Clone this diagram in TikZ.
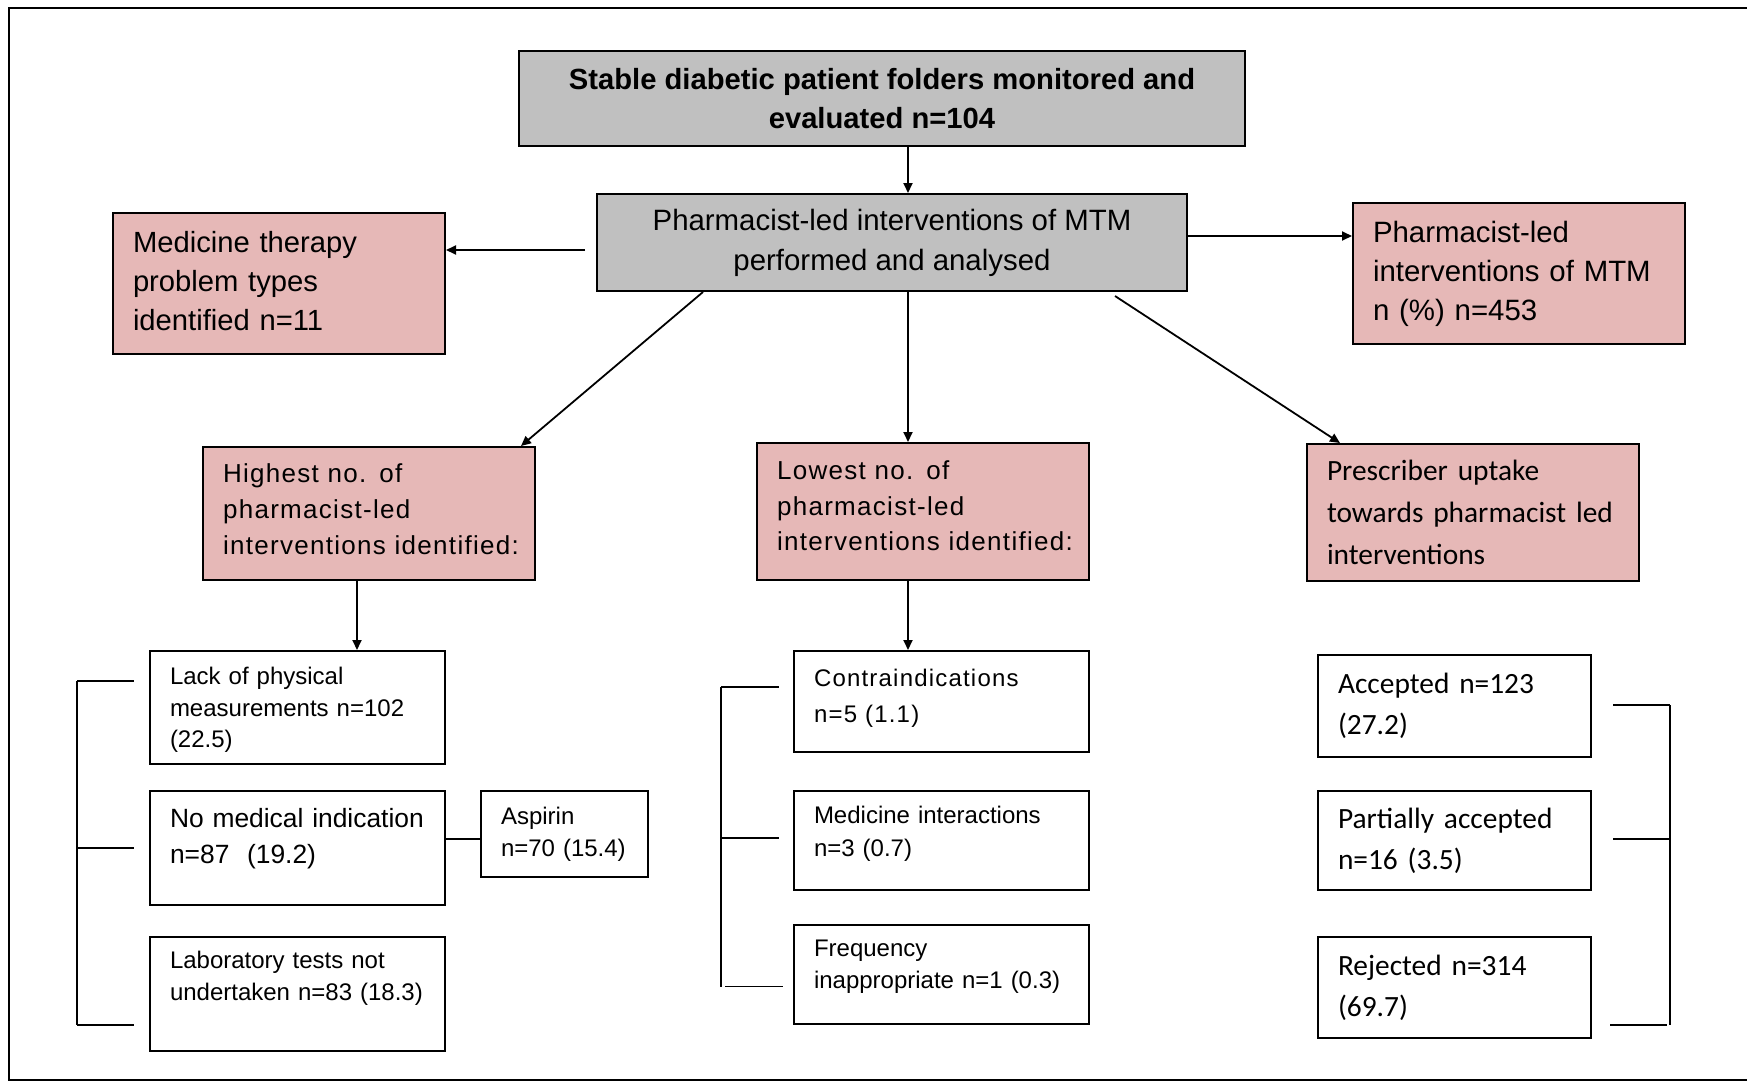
\documentclass[tikz,border=0pt]{standalone}
\usepackage{fontspec}
\setmainfont{Liberation Sans}
\newfontfamily\calfont{Carlito}
\newfontfamily\widefont[LetterSpace=5]{Liberation Sans}
\usetikzlibrary{arrows.meta}
\definecolor{rosa}{HTML}{E6B8B7}
\definecolor{cinza}{HTML}{C0C0C0}

\begin{document}
\begin{tikzpicture}[x=0.5pt,y=-0.5pt,
  caixa/.style={draw,line width=1pt,rectangle,inner xsep=5pt,inner ysep=2pt,
    align=left,execute at begin node={\leftskip=5pt}},
  cinzabox/.style={draw,line width=1pt,fill=cinza,align=center,inner sep=2pt},
  rosabox/.style={caixa,fill=rosa,minimum width=166pt,text width=156pt},
  esqbox/.style={caixa,minimum width=147.5pt,text width=137.5pt},
  dirbox/.style={caixa,minimum width=136.5pt,text width=126.5pt,
    font=\calfont\fontsize{14.7}{20.6}\selectfont},
  seta/.style={line width=0.9pt,-{Triangle[length=5pt,width=4.5pt]}},
  linha/.style={line width=0.9pt}]
\useasboundingbox (0,0) rectangle (1747,1082);

% moldura
\draw[line width=1.2pt] (1747,8) -- (9,8) -- (9,1080) -- (1747,1080);

% topo
\node[cinzabox,minimum width=363pt,minimum height=47.5pt,
  font=\bfseries\fontsize{14.6}{19.5}\selectfont] (folders) at (882,98.5)
  {Stable diabetic patient folders monitored and\\evaluated n=104};
\node[cinzabox,minimum width=295pt,minimum height=48.5pt,
  font=\fontsize{14.7}{20}\selectfont] (mtm) at (892,242.5)
  {Pharmacist-led interventions of MTM\\performed and analysed};

\node[rosabox,minimum height=70.5pt,font=\fontsize{14.6}{19.5}\selectfont] (types) at (279,283.5)
  {Medicine therapy\\problem types\\identified n=11\rule[-2.2pt]{0pt}{2.2pt}};
\node[rosabox,minimum height=70.5pt,font=\fontsize{14.7}{19.5}\selectfont] (total) at (1519,273.5)
  {Pharmacist-led\\interventions of MTM\\n (\%) n=453};

% segunda linha
\node[rosabox,minimum height=66.5pt,font=\widefont\fontsize{13}{17.8}\selectfont] (highest) at (369,513.5)
  {Highest no. of\\pharmacist-led\\interventions identified:\rule[-4.5pt]{0pt}{4.5pt}};
\node[rosabox,minimum height=68.5pt,font=\widefont\fontsize{13}{17.8}\selectfont] (lowest) at (923,511.5)
  {Lowest no. of\\pharmacist-led\\interventions identified:\rule[-5.6pt]{0pt}{5.6pt}};
\node[rosabox,minimum height=68.5pt,font=\calfont\fontsize{14.7}{21}\selectfont] (uptake) at (1473,512.5)
  {Prescriber uptake\\towards pharmacist led\\interventions};

% coluna esquerda
\node[esqbox,minimum height=56.5pt,font=\fontsize{12}{15.9}\selectfont] (physical) at (297.5,707.5)
  {\rule{0pt}{11pt}Lack of physical\\measurements n=102\\(22.5)};
\node[esqbox,minimum height=57pt,font=\fontsize{13.2}{17.8}\selectfont] (medical) at (297.5,848)
  {No medical indication\\n=87~ (19.2)\rule[-11.8pt]{0pt}{11.8pt}};
\node[caixa,minimum width=83.5pt,text width=73.5pt,minimum height=43pt,
  font=\fontsize{12}{16.2}\selectfont] (aspirin) at (564.5,834)
  {Aspirin\\n=70 (15.4)};
\node[esqbox,minimum height=57pt,font=\fontsize{12}{15.9}\selectfont] (lab) at (297.5,994)
  {Laboratory tests not\\undertaken n=83 (18.3)\rule[-18.1pt]{0pt}{18.1pt}};

% coluna do meio
\node[esqbox,minimum height=50.5pt,font=\widefont\fontsize{12}{17.8}\selectfont] (contra) at (941.5,701.5)
  {Contraindications\\n=5 (1.1)\rule[-5.8pt]{0pt}{5.8pt}};
\node[esqbox,minimum height=49.5pt,font=\fontsize{12}{16.2}\selectfont] (interac) at (941.5,840.5)
  {Medicine interactions\\n=3 (0.7)\rule[-9.2pt]{0pt}{9.2pt}};
\node[esqbox,minimum height=49.5pt,font=\fontsize{12}{16.2}\selectfont] (freq) at (941.5,974.5)
  {Frequency\\inappropriate n=1 (0.3)\rule[-10.3pt]{0pt}{10.3pt}};

% coluna direita
\node[dirbox,minimum height=51pt] (accepted) at (1454.5,706)
  {Accepted n=123\\(27.2)};
\node[dirbox,minimum height=49.5pt] (partial) at (1454.5,840.5)
  {Partially accepted\\n=16 (3.5)};
\node[dirbox,minimum height=50.5pt] (rejected) at (1454.5,987.5)
  {Rejected n=314\\(69.7)};

% setas
\coordinate (eixo) at (908,0);
\draw[seta] (folders.south -| eixo) -- (mtm.north -| eixo);
\draw[seta] ([shift={(-11,7.5)}]mtm.west) coordinate (e) -- (e -| types.east);
\draw[seta] ([shift={(0,-6.5)}]mtm.east) coordinate (d) -- (d -| total.west);
\draw[seta] ([shift={(107,0)}]mtm.south west) -- ([shift={(-15,0)}]highest.north east);
\draw[seta] (mtm.south -| eixo) -- (lowest.north -| eixo);
\draw[seta] ([shift={(-73,4)}]mtm.south east) -- ([shift={(34,0)}]uptake.north west);
\draw[seta] ([shift={(-12,0)}]highest.south) coordinate (m) -- (m |- physical.north);
\draw[seta] (lowest.south -| eixo) -- (contra.north -| eixo);
\draw[linha] ([shift={(0,-9)}]medical.east) coordinate (a) -- (a -| aspirin.west);

% chavetas
\draw[linha] (77,681) -- (77,1025);
\foreach \y in {681,848,1025} {
  \draw[linha] (77,\y) -- (134,\y);
}
\draw[linha] (721,687) -- (721,986.5);
\foreach \y in {687,838} {
  \draw[linha] (721,\y) -- (779,\y);
}
\draw[linha] (725,986.5) -- (783,986.5);
\draw[linha] (1670,705) -- (1670,1025);
\foreach \y in {705,839} {
  \draw[linha] (1613,\y) -- (1670,\y);
}
\draw[linha] (1610,1025) -- (1667,1025);

\end{tikzpicture}
\end{document}
